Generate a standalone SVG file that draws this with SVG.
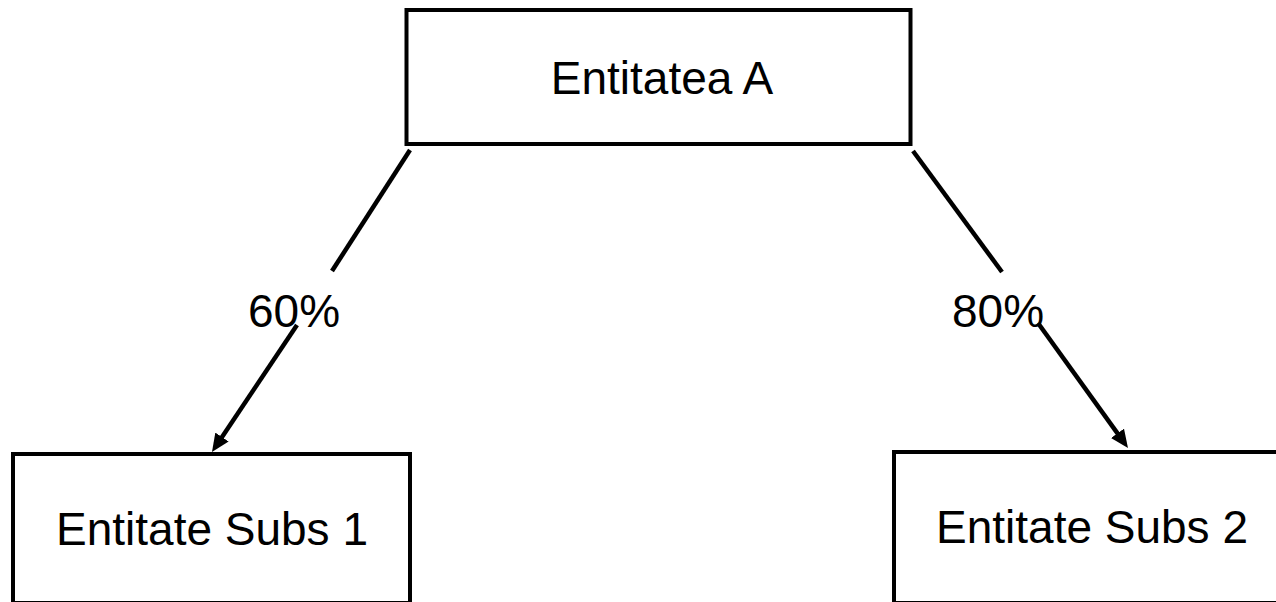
<svg xmlns="http://www.w3.org/2000/svg" width="1276" height="602" viewBox="0 0 1276 602">
<style>
.box{fill:#fff;stroke:#000;stroke-width:4}
.lbl{font-family:"Liberation Sans",Arial,sans-serif;font-size:46px;fill:#000}
.edge{stroke:#000;stroke-width:4.5;fill:none}
</style>
<defs>
<marker id="arr" markerUnits="userSpaceOnUse" markerWidth="18" markerHeight="16" refX="5" refY="8" orient="auto">
<path d="M0,0 L18,8 L0,16 z" fill="#000"/>
</marker>
</defs>
<rect width="1276" height="602" fill="#fff"/>
<g id="nodeA">
<rect class="box" x="406.5" y="10" width="504" height="134"/>
<text class="lbl" x="662" y="94" text-anchor="middle">Entitatea A</text>
</g>
<g id="nodeSubs1">
<rect class="box" x="13" y="454" width="397" height="149"/>
<text class="lbl" x="212" y="545" text-anchor="middle">Entitate Subs 1</text>
</g>
<g id="nodeSubs2">
<rect class="box" x="894" y="452" width="400" height="151"/>
<text class="lbl" x="1092" y="543" text-anchor="middle">Entitate Subs 2</text>
</g>
<g id="connectors">
<line class="edge" x1="410" y1="150" x2="332" y2="271"/>
<line class="edge" x1="297" y1="325" x2="219.2" y2="441.2" marker-end="url(#arr)"/>
<line class="edge" x1="913" y1="151" x2="1002" y2="272"/>
<line class="edge" x1="1038" y1="323" x2="1120.4" y2="437.4" marker-end="url(#arr)"/>
<text class="lbl" x="248" y="327">60%</text>
<text class="lbl" x="952" y="327">80%</text>
</g>
</svg>
